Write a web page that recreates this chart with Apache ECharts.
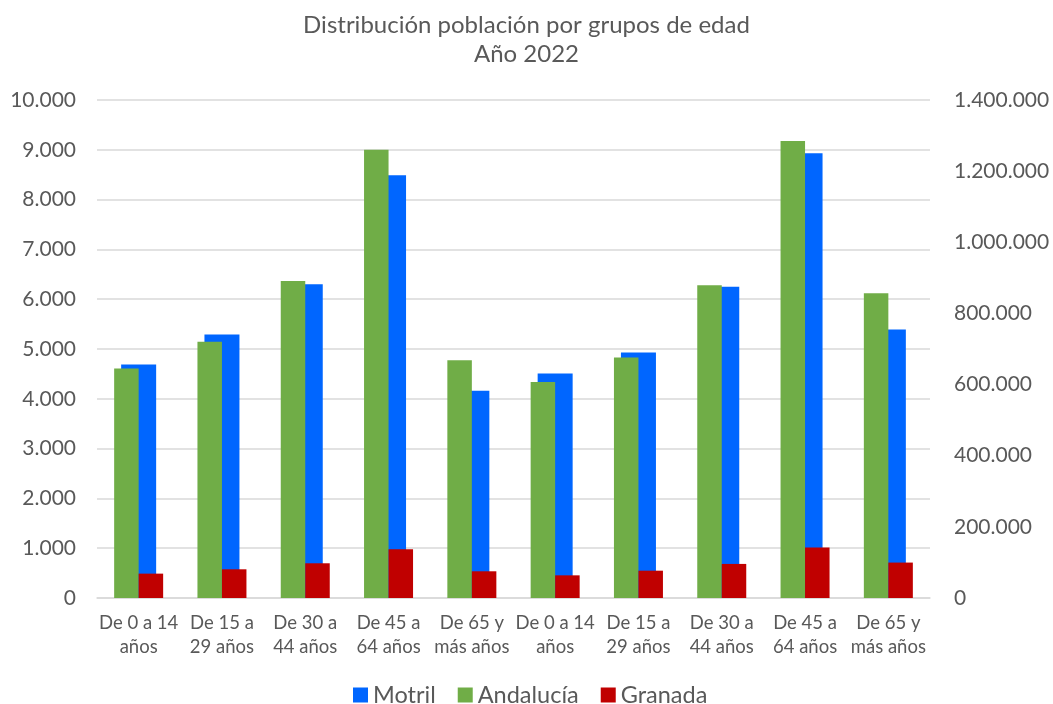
<!DOCTYPE html>
<html>
<head>
<meta charset="utf-8">
<script src="https://cdn.jsdelivr.net/npm/echarts@6/dist/echarts.min.js"></script>
<style>
  html, body { margin: 0; padding: 0; background: #fff; }
  #chart { width: 1053px; height: 704px; }
</style>
</head>
<body>
<div id="chart"></div>
<script>
// categorias (se repiten dos bloques de grupos de edad)
var categories = [
  'De 0 a 14\naños', 'De 15 a\n29 años', 'De 30 a\n44 años', 'De 45 a\n64 años', 'De 65 y\nmás años',
  'De 0 a 14\naños', 'De 15 a\n29 años', 'De 30 a\n44 años', 'De 45 a\n64 años', 'De 65 y\nmás años'
];
// Motril - eje izquierdo
var motril = [4690, 5290, 6300, 8490, 4160, 4510, 4930, 6250, 8930, 5390];
// Andalucía - eje derecho
var andalucia = [645500, 720600, 891000, 1260000, 668200, 607300, 676300, 879200, 1285000, 856500];
// Granada - eje derecho
var granada = [68500, 80700, 97600, 136900, 75100, 63700, 76800, 95800, 142300, 99600];

var leftTicks = { min: 0, max: 10000, interval: 1000 };
var rightTicks = { min: 0, max: 1400000, interval: 200000 };

var fmt = function (v) {
  return String(v).replace(/\B(?=(\d{3})+(?!\d))/g, '.');
};

var chart = echarts.init(document.getElementById('chart'));
var txt = '#595959';
var font = 'Lato';

chart.setOption({
  animation: false,
  title: {
    text: 'Distribución población por grupos de edad\nAño 2022',
    left: 'center',
    top: 6,
    textStyle: { color: txt, fontFamily: font, fontSize: 24, fontWeight: 'normal', lineHeight: 29 }
  },
  legend: {
    top: 678,
    left: 348,
    itemWidth: 15,
    itemHeight: 15,
    itemGap: 22,
    icon: 'rect',
    data: ['Motril', 'Andalucía', 'Granada'],
    textStyle: { color: txt, fontFamily: font, fontSize: 23.5 }
  },
  grid: { left: 97, right: 123, top: 100, bottom: 106 },
  xAxis: [
    {
      type: 'category',
      data: categories,
      axisLine: { lineStyle: { color: '#d9d9d9', width: 1.5 } },
      axisTick: { show: false },
      axisLabel: { color: txt, fontFamily: font, fontSize: 18.5, lineHeight: 24, margin: 13, interval: 0 }
    },
    {
      type: 'category',
      data: categories,
      show: false
    }
  ],
  yAxis: [
    {
      type: 'value',
      min: leftTicks.min, max: leftTicks.max, interval: leftTicks.interval,
      axisLine: { show: false },
      axisTick: { show: false },
      splitLine: { lineStyle: { color: '#d9d9d9', width: 1.5 } },
      axisLabel: { color: txt, fontFamily: font, fontSize: 21, margin: 21, formatter: fmt }
    },
    {
      type: 'value',
      position: 'right',
      min: rightTicks.min, max: rightTicks.max, interval: rightTicks.interval,
      axisLine: { show: false },
      axisTick: { show: false },
      splitLine: { show: false },
      axisLabel: { color: txt, fontFamily: font, fontSize: 21, margin: 24, formatter: fmt }
    }
  ],
  series: [
    {
      name: 'Motril',
      type: 'bar',
      xAxisIndex: 0,
      yAxisIndex: 0,
      barWidth: 35,
      itemStyle: { color: '#0066FF' },
      data: motril
    },
    {
      name: 'Andalucía',
      type: 'bar',
      xAxisIndex: 1,
      yAxisIndex: 1,
      barWidth: 24.5,
      barGap: '0%',
      itemStyle: { color: '#70AD47' },
      data: andalucia
    },
    {
      name: 'Granada',
      type: 'bar',
      xAxisIndex: 1,
      yAxisIndex: 1,
      barWidth: 24.5,
      barGap: '0%',
      itemStyle: { color: '#C00000' },
      data: granada
    }
  ]
});
</script>
</body>
</html>
